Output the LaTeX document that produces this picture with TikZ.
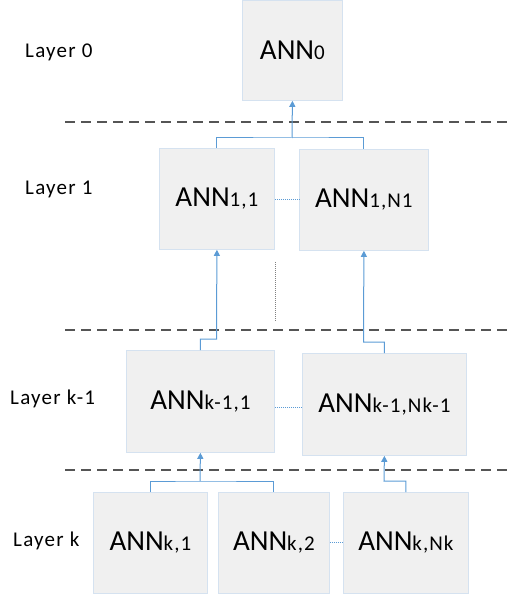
\documentclass[tikz,border=0pt]{standalone}
\usepackage{fontspec}
\setmainfont{Carlito}
\newfontfamily\cf{Carlito}
\newfontfamily\cfs[LetterSpace=5]{Carlito}
\newfontfamily\cfl[LetterSpace=6]{Carlito}
\usetikzlibrary{arrows.meta}
\definecolor{boxfill}{HTML}{F0F0F0}
\definecolor{boxdraw}{HTML}{D5E2F0}
\definecolor{conncol}{HTML}{5B9BD5}
\definecolor{dashcol}{HTML}{555555}
\newcommand{\annlbl}[1]{{\fontsize{29}{29}\cf ANN}{\fontsize{21}{21}\cfs #1}}
\tikzset{
  box/.style={draw=boxdraw, line width=0.8pt, fill=boxfill, inner sep=0pt, anchor=north west},
  conn/.style={draw=conncol, line width=1pt},
  arr/.style={conn, -{Triangle[length=6pt,width=6pt]}},
  sep/.style={draw=dashcol, line width=1.4pt, dash pattern=on 10pt off 6pt},
  dots/.style={draw=conncol, line width=0.9pt, dash pattern=on 1pt off 1pt},
  layerlbl/.style={anchor=base west, inner sep=0pt, font=\fontsize{21}{21}\cfl}
}
\begin{document}
\begin{tikzpicture}[x=1pt,y=-1pt]
\useasboundingbox (0,0) rectangle (512,596);
% boxes
\node[box, minimum width=100pt, minimum height=100pt] (a0) at (242,0) {};
\node at (a0.center) {\annlbl{0}};
\node[box, minimum width=115pt, minimum height=101pt] (a11) at (159,148) {};
\node at (a11.center) {\annlbl{1,1}};
\node[box, minimum width=129pt, minimum height=101pt] (a1n) at (299,149) {};
\node at (a1n.center) {\annlbl{1,N1}};
\node[box, minimum width=148pt, minimum height=102pt] (akm1) at (126,350) {};
\node at (akm1.center) {\annlbl{k-1,1}};
\node[box, minimum width=164pt, minimum height=102pt] (akmn) at (302,353) {};
\node at (akmn.center) {\annlbl{k-1,Nk-1}};
\node[box, minimum width=114pt, minimum height=101pt] (k1) at (93,492) {};
\node at (k1.center) {\annlbl{k,1}};
\node[box, minimum width=111pt, minimum height=101pt] (k2) at (218,492) {};
\node at (k2.center) {\annlbl{k,2}};
\node[box, minimum width=125pt, minimum height=101pt] (kn) at (343,492) {};
\node at (kn.center) {\annlbl{k,Nk}};
% layer labels
\node[layerlbl] (l0) at (25,58) {Layer 0};
\node[layerlbl] (l1) at (25,194) {Layer 1};
\node[layerlbl] (lkm) at (10,404) {Layer k-1};
\node[layerlbl] (lk) at (13,546) {Layer k};
% separators
\coordinate (s1a) at (65,122); \coordinate (s1b) at (512,122);
\coordinate (s2a) at (65,330); \coordinate (s2b) at (512,330);
\coordinate (s3a) at (65,470); \coordinate (s3b) at (512,470);
\draw[sep] (s1a) -- (s1b);
\draw[sep] (s2a) -- (s2b);
\draw[sep] (s3a) -- (s3b);
% connectors layer 1 -> 0
\coordinate (j1) at (292,138);
\draw[conn] (a11.north) |- (j1) -| (a1n.north);
\draw[arr] (j1) -- (a0.south);
% layer k-1 -> 1
\coordinate (j2) at (216.5,339);
\draw[arr] (akm1.north) |- (j2) -- (a11.south);
\coordinate (j3) at (363.5,342);
\draw[arr] (akmn.north) |- (j3) -- (a1n.south);
% layer k -> k-1
\coordinate (j4) at (200,481);
\draw[conn] (k1.north) |- (j4) -| (k2.north);
\draw[arr] (j4) -- (akm1.south);
\coordinate (j5) at (384,481);
\draw[arr] (kn.north) |- (j5) -- (akmn.south);
% dotted links
\draw[dots] (a11.east |- 0,199) -- (a1n.west |- 0,199);
\draw[dots] (akm1.east |- 0,407) -- (akmn.west |- 0,407);
\draw[dots] (k2.east |- 0,542) -- (kn.west |- 0,542);
\coordinate (v1) at (275,262); \coordinate (v2) at (275,322);
\draw[draw=gray, line width=1pt, dash pattern=on 1pt off 1pt] (v1) -- (v2);
\end{tikzpicture}
\end{document}
